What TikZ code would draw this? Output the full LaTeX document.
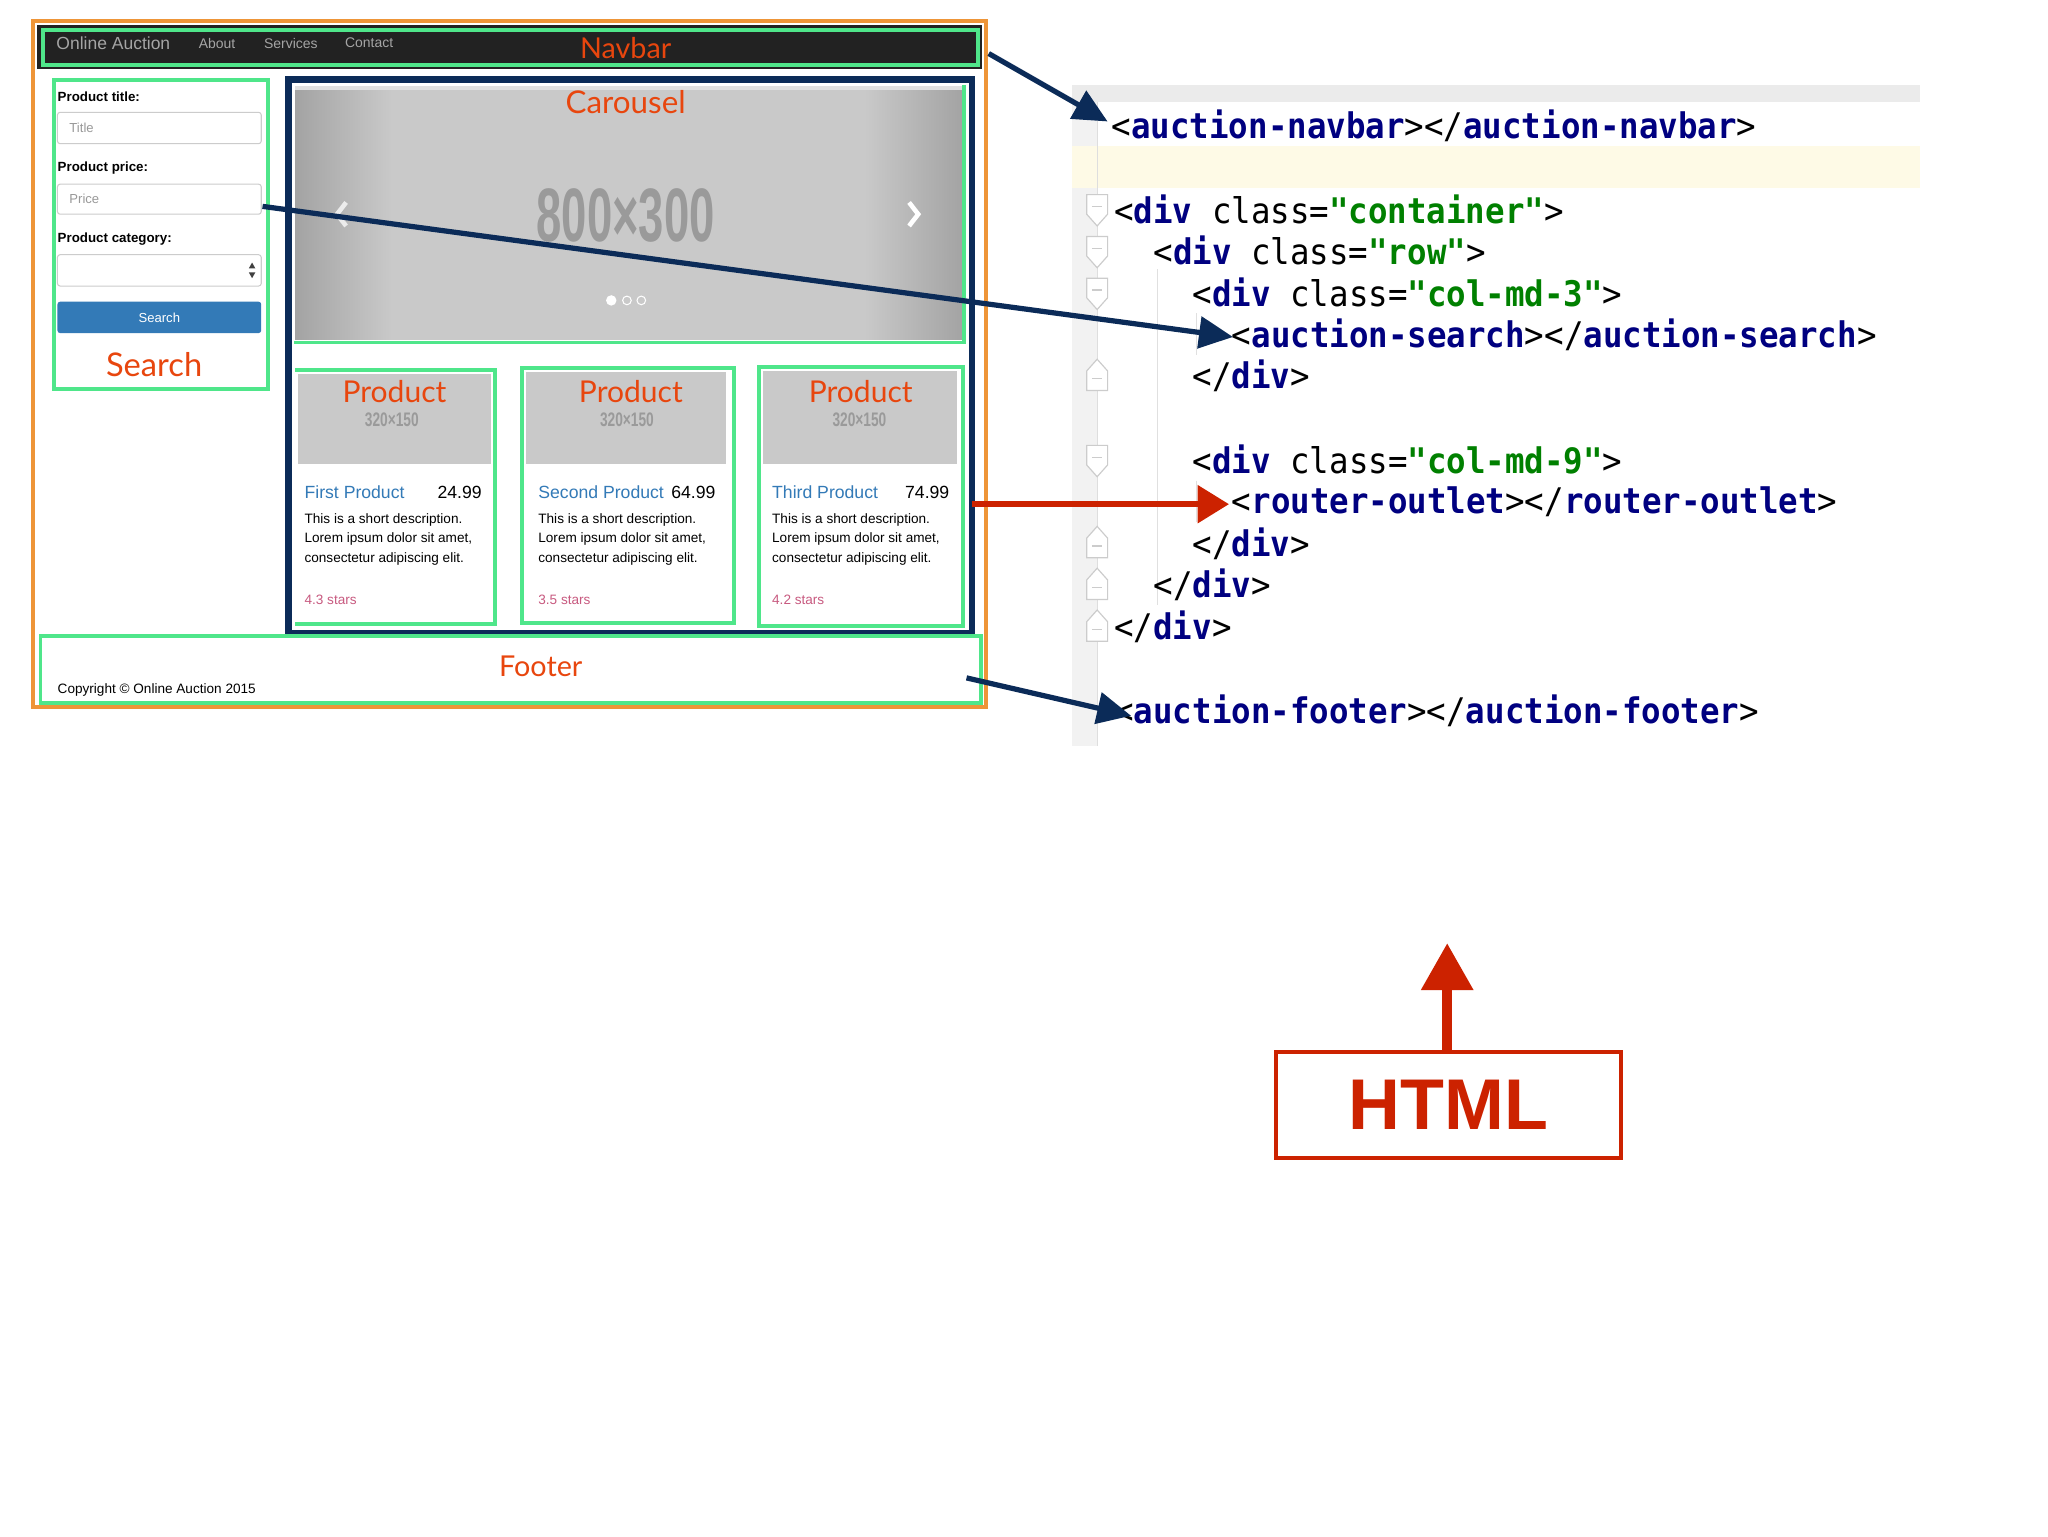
\documentclass[tikz,border=0pt]{standalone}
\usepackage{fontspec}
\usepackage{graphicx}
\setmainfont{Liberation Sans}
\newfontfamily\lato{Lato}
\newfontfamily\codefont{DejaVu Sans Mono}
\usetikzlibrary{arrows.meta,calc}
\definecolor{orangeB}{HTML}{EE9538}
\definecolor{greenB}{HTML}{4FE68A}
\definecolor{navy}{HTML}{0B2B58}
\definecolor{labred}{HTML}{E8460E}
\definecolor{navbg}{HTML}{222222}
\definecolor{navtxt}{HTML}{A5A5A5}
\definecolor{btnblue}{HTML}{337AB7}
\definecolor{starpink}{HTML}{C85A80}
\definecolor{arrred}{HTML}{CC2200}
\definecolor{inputc}{HTML}{CCCCCC}
\definecolor{phc}{HTML}{999999}
\definecolor{carg}{HTML}{C9C9C9}
\definecolor{dimc}{HTML}{9A9A9A}
\definecolor{tagc}{HTML}{000080}
\definecolor{valc}{HTML}{008000}
\definecolor{hlc}{HTML}{FEFAE6}
\definecolor{gutc}{HTML}{F2F2F2}
\definecolor{barc}{HTML}{EBEBEB}
\newcommand\fsz[1]{\fontsize{#1}{#1}\selectfont}
\newcommand\tg[1]{{\bfseries\color{tagc}#1}}
\newcommand\vl[1]{{\bfseries\color{valc}#1}}
\newcommand\cx[1]{\scalebox{0.92}[1]{#1}}
\begin{document}
\begin{tikzpicture}[x=1pt,y=-1pt,
  lab/.style={inner sep=0pt, anchor=west},
  note/.style={inner sep=0pt, text=labred, font=\lato\fsz{23}},
  gbox/.style={draw=greenB, line width=3pt},
  inbox/.style={draw=inputc, line width=0.8pt, fill=white, rounded corners=2pt},
  code/.style={anchor=west, inner sep=0pt, font=\codefont\fsz{27}},
  fold/.style={draw=inputc, fill=white, line width=0.9pt},
  navyarr/.style={draw=navy, line width=4pt, -{Triangle[length=26pt,width=24pt]}},
  redarr/.style={draw=arrred, line width=5pt, -{Triangle[length=24pt,width=28pt]}},
  bigarr/.style={draw=arrred, line width=8pt, -{Triangle[length=36pt,width=38pt]}}]
\useasboundingbox[fill=white] (0,0) rectangle (1568,1176);

% ---------------- screenshot ----------------
\fill[white] (25,16) rectangle (755,541);
% navbar
\fill[navbg] (28,19) rectangle (752,53);
\draw[gbox] (33,23) rectangle (749,50);
\node[lab, text=navtxt, font=\fsz{13.4}] (brand) at (43,33) {Online Auction};
\node[lab, text=navtxt, font=\fsz{10.7}] (about) at (152,33) {About};
\node[lab, text=navtxt, font=\fsz{10.7}] (services) at (202,33) {Services};
\node[lab, text=navtxt, font=\fsz{10.7}] (contact) at (264,33) {Contact};
\node[note, font=\lato\fsz{22}] (navlab) at (479,37) {Navbar};

% search panel
\draw[gbox] (41,61) rectangle (205,298);
\node[lab, font=\bfseries\fsz{10.2}] (ptitle) at (44,74) {Product title:};
\draw[inbox] (44,86) rectangle (200,110);
\node[lab, text=phc, font=\fsz{10}] (tph) at (53,98) {Title};
\node[lab, font=\bfseries\fsz{10.2}] (pprice) at (44,129) {Product price:};
\draw[inbox] (44,141) rectangle (200,164);
\node[lab, text=phc, font=\fsz{10}] (pph) at (53,152) {Price};
\node[lab, font=\bfseries\fsz{10.2}] (pcat) at (44,183) {Product category:};
\draw[inbox] (44,195) rectangle (200,219);
\fill[black!75] (190.5,205.5) -- (195.5,205.5) -- (193,201) -- cycle;
\fill[black!75] (190.5,208.5) -- (195.5,208.5) -- (193,213) -- cycle;
\fill[btnblue, rounded corners=2pt] (44,231) rectangle (200,255);
\node[inner sep=0pt, text=white, font=\fsz{10}] (sbtn) at (122,243) {Search};
\node[note, font=\lato\fsz{25}] (searchlab) at (118,279) {Search};

% carousel
\fill[white] (221,61) rectangle (744,485);
\fill[carg] (226,66) rectangle (737,260);
\shade[left color=black!36, right color=carg] (226,66) rectangle (300,260);
\shade[left color=carg, right color=black!36] (662,66) rectangle (737,260);
\fill[black!12] (226,66) rectangle (737,69);
\draw[greenB, line width=2.5pt] (738,65) -- (738,262) -- (225,262);
\node[note, font=\lato\fsz{24}] (carlab) at (479,78) {Carousel};
\node[inner sep=0pt, text=dimc, font=\bfseries\fsz{58}] (dim) at (479,165) {\scalebox{0.6}[1]{800×300}};
\draw[white!85!gray, line width=3.5pt] (265,155) -- (258,164) -- (265,173);
\draw[white, line width=3.5pt] (696,155) -- (703,164) -- (696,173);
\fill[white] (468,230) circle (4);
\draw[white, line width=0.8pt] (480,230) circle (3.3);
\draw[white, line width=0.8pt] (491,230) circle (3.3);

% product cards
\fill[carg] (228,286) rectangle (376,355);
\fill[carg] (403,285) rectangle (556,355);
\fill[carg] (584,284) rectangle (733,355);
\draw[gbox] (226,283) -- (379,283) -- (379,478) -- (226,478);
\draw[gbox] (400,282) rectangle (562,477);
\draw[gbox] (581,281) rectangle (737,479);
\node[note] (p1lab) at (302,300) {Product};
\node[note] (p2lab) at (483,300) {Product};
\node[note] (p3lab) at (659,300) {Product};
\node[inner sep=0pt, text=dimc, font=\bfseries\fsz{15}] (p1dim) at (300,321) {\scalebox{0.7}[1]{320×150}};
\node[inner sep=0pt, text=dimc, font=\bfseries\fsz{15}] (p2dim) at (480,321) {\scalebox{0.7}[1]{320×150}};
\node[inner sep=0pt, text=dimc, font=\bfseries\fsz{15}] (p3dim) at (658,321) {\scalebox{0.7}[1]{320×150}};
\node[lab, text=btnblue, font=\fsz{13.5}] (t1) at (233,377) {First Product};
\node[inner sep=0pt, anchor=east, font=\fsz{13.5}] (pr1) at (369,377) {24.99};
\node[lab, text=btnblue, font=\fsz{13.5}] (t2) at (412,377) {Second Product};
\node[inner sep=0pt, anchor=east, font=\fsz{13.5}] (pr2) at (548,377) {64.99};
\node[lab, text=btnblue, font=\fsz{13.5}] (t3) at (591,377) {Third Product};
\node[inner sep=0pt, anchor=east, font=\fsz{13.5}] (pr3) at (727,377) {74.99};
\foreach \xx/\nm in {233/a,412/b,591/c}{
  \node[lab, font=\fsz{10.4}] (d1\nm) at (\xx,398) {This is a short description.};
  \node[lab, font=\fsz{10.4}] (d2\nm) at (\xx,413) {Lorem ipsum dolor sit amet,};
  \node[lab, font=\fsz{10.4}] (d3\nm) at (\xx,428) {consectetur adipiscing elit.};
}
\node[lab, text=starpink, font=\fsz{10.4}] (s1) at (233,459) {4.3 stars};
\node[lab, text=starpink, font=\fsz{10.4}] (s2) at (412,459) {3.5 stars};
\node[lab, text=starpink, font=\fsz{10.4}] (s3) at (591,459) {4.2 stars};
\draw[navy, line width=5pt] (221,61) rectangle (744,485);

% footer
\draw[gbox] (31,487) rectangle (751,538);
\node[note, font=\lato\fsz{22}] (footlab) at (414,510) {Footer};
\node[lab, font=\fsz{10.4}] (copy) at (44,528) {Copyright © Online Auction 2015};

% outer border
\draw[orangeB, line width=3pt] (25,16) rectangle (755,541);

% ---------------- code editor ----------------
\fill[barc] (821,65) rectangle (1470,78);
\fill[gutc] (821,78) rectangle (840,571);
\fill[hlc] (821,112) rectangle (1470,144);
\draw[black!13, line width=1pt] (840,78) -- (840,571);
\draw[black!12, line width=1pt] (886,206) -- (886,463);
\draw[black!12, line width=1pt] (916,240) -- (916,272);
\draw[black!12, line width=1pt] (916,368) -- (916,400);
\foreach \yy in {160,192,224,352}{
  \draw[fold] (832,\yy-11) -- (848,\yy-11) -- (848,\yy+4) -- (840,\yy+13) -- (832,\yy+4) -- cycle;
  \draw[inputc, line width=0.9pt] (836,\yy-2) -- (844,\yy-2);
}
\foreach \yy in {288,416,448,480}{
  \draw[fold] (840,\yy-13) -- (848,\yy-4) -- (848,\yy+11) -- (832,\yy+11) -- (832,\yy-4) -- cycle;
  \draw[inputc, line width=0.9pt] (836,\yy+2) -- (844,\yy+2);
}
\node[code] (navcode) at (851,96) {\cx{<\tg{auction-navbar}></\tg{auction-navbar}>}};
\node[code] (cont) at (853,160) {\cx{<\tg{div} class=\vl{"container"}>}};
\node[code] (row) at (883,192) {\cx{<\tg{div} class=\vl{"row"}>}};
\node[code] (col3) at (913,224) {\cx{<\tg{div} class=\vl{"col-md-3"}>}};
\node[code] (searchcode) at (943,256) {\cx{<\tg{auction-search}></\tg{auction-search}>}};
\node[code] (col3end) at (913,288) {\cx{</\tg{div}>}};
\node[code] (col9) at (913,352) {\cx{<\tg{div} class=\vl{"col-md-9"}>}};
\node[code] (routercode) at (943,384) {\cx{<\tg{router-outlet}></\tg{router-outlet}>}};
\node[code] (col9end) at (913,416) {\cx{</\tg{div}>}};
\node[code] (rowend) at (883,448) {\cx{</\tg{div}>}};
\node[code] (contend) at (853,480) {\cx{</\tg{div}>}};
\node[code] (footcode) at (853,544) {\cx{<\tg{auction-footer}></\tg{auction-footer}>}};

% ---------------- arrows ----------------
\coordinate (navS) at (757,41);
\coordinate (searchS) at (201,158);
\coordinate (routerS) at (744,386);
\coordinate (footS) at (740,519);
\coordinate (footT) at (866,548);
\draw[navyarr] (navS) -- ($(navcode.west)+(-3,-3)$);
\draw[navyarr] (searchS) -- ($(searchcode.west)+(1,2)$);
\draw[redarr] (routerS) -- ($(routercode.west)+(-2,2)$);
\draw[navyarr] (footS) -- (footT);

% ---------------- HTML box ----------------
\node[draw=arrred, line width=3pt, minimum width=264pt, minimum height=81pt,
      inner sep=0pt, text=arrred, font=\bfseries\fsz{55}] (html) at (1109,846) {HTML};
\coordinate (htmlT) at (1108,722);
\draw[bigarr] (html.north -| htmlT) -- (htmlT);
\end{tikzpicture}
\end{document}
